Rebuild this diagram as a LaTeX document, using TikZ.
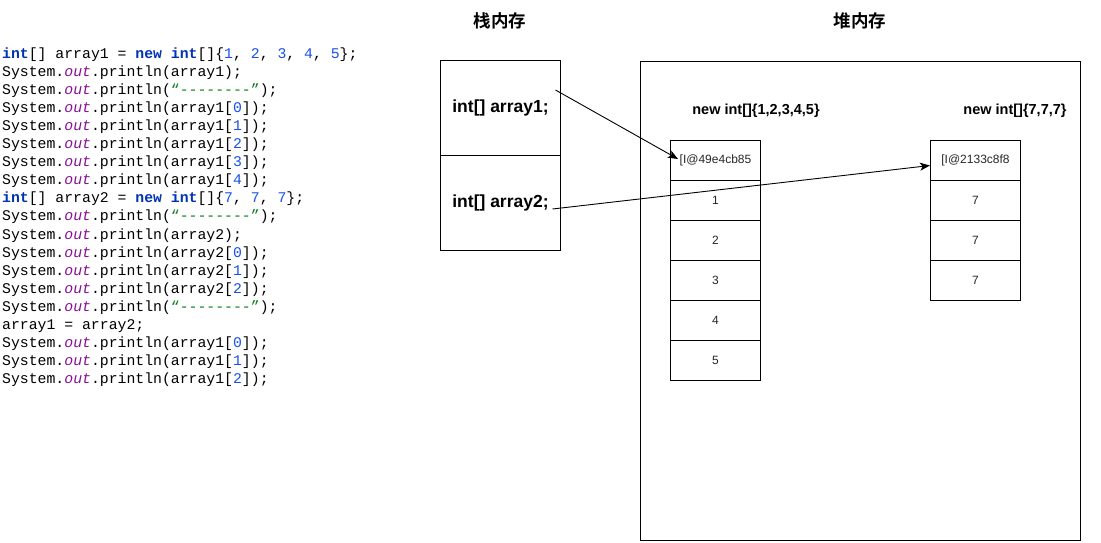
\documentclass[tikz,border=0pt]{standalone}
\usepackage{fontspec}
\setmainfont{Liberation Sans}
\newfontfamily\codefont{Liberation Mono}
\newfontfamily\cjkfont{Noto Sans CJK SC}[BoldFont={* Bold}]
\usetikzlibrary{arrows.meta,calc}
\definecolor{kwblue}{HTML}{0033B3}
\definecolor{numblue}{HTML}{1750EB}
\definecolor{outpurple}{HTML}{871094}
\definecolor{strgreen}{HTML}{067D17}
\newcommand{\kw}[1]{\textcolor{kwblue}{\textbf{#1}}}
\newcommand{\nm}[1]{\textcolor{numblue}{#1}}
\newcommand{\so}{System.\textcolor{outpurple}{\textit{out}}.println}
\newcommand{\dstr}{\textcolor{strgreen}{“--------”}}
\tikzset{
  codeline/.style={anchor=base west, inner sep=0pt, font=\codefont\fontsize{14.8}{18}\selectfont},
  title/.style={font=\cjkfont\bfseries\fontsize{17.5}{20}\selectfont},
  stackcell/.style={draw, line width=1pt, minimum width=120pt, minimum height=95pt, inner sep=0pt, font=\bfseries\fontsize{17.5}{20}\selectfont},
  cell/.style={draw, line width=1pt, minimum width=90pt, minimum height=40pt, inner sep=0pt, text=black!85, font=\fontsize{12}{14}\selectfont},
  arrlabel/.style={font=\bfseries\fontsize{14.5}{17}\selectfont},
  ptr/.style={line width=0.9pt, -{Stealth[length=10pt,width=8pt,inset=2.5pt]}}
}
\begin{document}
\begin{tikzpicture}[x=1pt,y=-1pt]
\useasboundingbox (0,0) rectangle (1101,542);
% code
\node[codeline] (c0) at (2,58) {\kw{int}[] array1 = \kw{new} \kw{int}[]\{\nm{1}, \nm{2}, \nm{3}, \nm{4}, \nm{5}\};};
\node[codeline] (c1) at (2,76.11) {\so(array1);};
\node[codeline] (c2) at (2,94.22) {\so(\dstr);};
\node[codeline] (c3) at (2,112.33) {\so(array1[\nm{0}]);};
\node[codeline] (c4) at (2,130.44) {\so(array1[\nm{1}]);};
\node[codeline] (c5) at (2,148.55) {\so(array1[\nm{2}]);};
\node[codeline] (c6) at (2,166.66) {\so(array1[\nm{3}]);};
\node[codeline] (c7) at (2,184.77) {\so(array1[\nm{4}]);};
\node[codeline] (c8) at (2,202.88) {\kw{int}[] array2 = \kw{new} \kw{int}[]\{\nm{7}, \nm{7}, \nm{7}\};};
\node[codeline] (c9) at (2,220.99) {\so(\dstr);};
\node[codeline] (c10) at (2,239.1) {\so(array2);};
\node[codeline] (c11) at (2,257.21) {\so(array2[\nm{0}]);};
\node[codeline] (c12) at (2,275.32) {\so(array2[\nm{1}]);};
\node[codeline] (c13) at (2,293.43) {\so(array2[\nm{2}]);};
\node[codeline] (c14) at (2,311.54) {\so(\dstr);};
\node[codeline] (c15) at (2,329.65) {array1 = array2;};
\node[codeline] (c16) at (2,347.76) {\so(array1[\nm{0}]);};
\node[codeline] (c17) at (2,365.87) {\so(array1[\nm{1}]);};
\node[codeline] (c18) at (2,383.98) {\so(array1[\nm{2}]);};
% titles
\node[title] (t1) at (500,21) {栈内存};
\node[title] (t2) at (860,21) {堆内存};
% stack
\node[stackcell] (s1) at (500.5,108) {int[] array1;};
\node[stackcell] (s2) at (500.5,203) {int[] array2;};
% heap
\node[draw, line width=1pt, minimum width=440pt, minimum height=479pt, inner sep=0pt] (heap) at (860.5,300.5) {};
\node[arrlabel] (l1) at (756,111) {new int[]\{1,2,3,4,5\}};
\node[arrlabel] (l2) at (1015,111) {new int[]\{7,7,7\}};
% array1 cells
\node[cell] (a0) at (715.5,160.5) {[I@49e4cb85};
\node[cell] (a1) at (715.5,200.5) {1};
\node[cell] (a2) at (715.5,240.5) {2};
\node[cell] (a3) at (715.5,280.5) {3};
\node[cell] (a4) at (715.5,320.5) {4};
\node[cell] (a5) at (715.5,360.5) {5};
% array2 cells
\node[cell] (b0) at (975.5,160.5) {[I@2133c8f8};
\node[cell] (b1) at (975.5,200.5) {7};
\node[cell] (b2) at (975.5,240.5) {7};
\node[cell] (b3) at (975.5,280.5) {7};
% pointers
\coordinate (p1s) at ($(s1.east)+(-5.5,-18)$);
\coordinate (p1e) at ($(a0.west)+(8,-1.5)$);
\coordinate (p2s) at ($(s2.east)+(-8.5,6)$);
\coordinate (p2e) at ($(b0.west)+(0,5)$);
\draw[ptr] (p1s) -- (p1e);
\draw[ptr] (p2s) -- (p2e);
\end{tikzpicture}
\end{document}
